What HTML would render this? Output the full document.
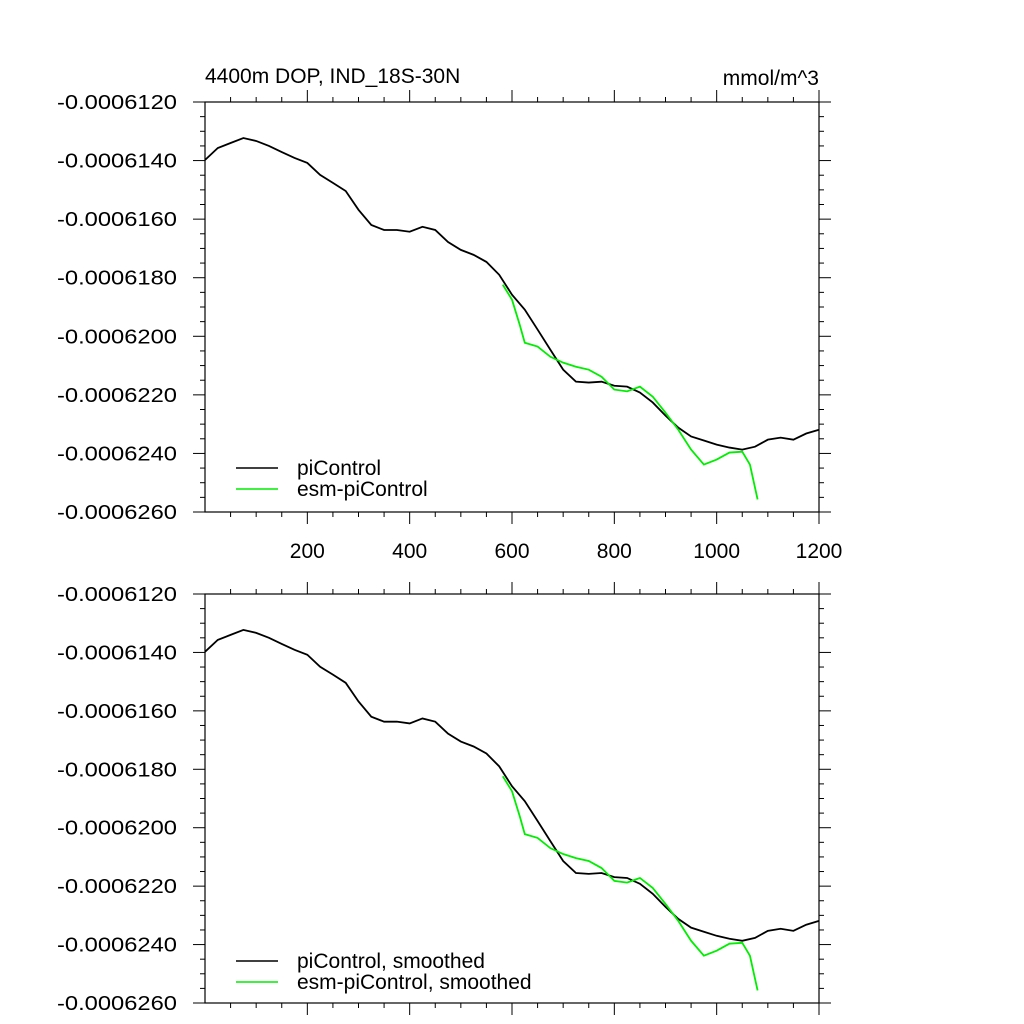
<!DOCTYPE html>
<html><head><meta charset="utf-8"><style>
html,body{margin:0;padding:0;background:#fff}
svg{display:block;font-family:"Liberation Sans",sans-serif}
</style></head><body>
<svg id="chart" width="1024" height="1024"></svg>
<script>
const years = [0,25,50,75,100,125,150,175,200,225,250,275,300,325,350,375,400,425,450,475,500,525,550,575,600,625,650,675,700,725,750,775,800,825,850,875,900,925,950,975,1000,1025,1050,1075,1100,1125,1150,1175,1200];
const piControl = [-6.1398,-6.1357,-6.1340,-6.1323,-6.1333,-6.1350,-6.1371,-6.1391,-6.1408,-6.1449,-6.1476,-6.1504,-6.1568,-6.1620,-6.1637,-6.1637,-6.1643,-6.1626,-6.1637,-6.1678,-6.1705,-6.1722,-6.1746,-6.1790,-6.1858,-6.1909,-6.1977,-6.2046,-6.2114,-6.2155,-6.2158,-6.2155,-6.2169,-6.2172,-6.2192,-6.2226,-6.2271,-6.2312,-6.2342,-6.2356,-6.2370,-6.2380,-6.2387,-6.2377,-6.2353,-6.2346,-6.2353,-6.2332,-6.2319];
const esmYears = [582,600,615,625,650,675,700,725,750,775,800,825,850,875,900,925,950,975,1000,1025,1050,1065,1080];
const esmPiControl = [-6.1824,-6.1875,-6.1960,-6.2022,-6.2035,-6.2070,-6.2090,-6.2104,-6.2114,-6.2138,-6.2182,-6.2188,-6.2172,-6.2206,-6.2261,-6.2319,-6.2387,-6.2438,-6.2421,-6.2397,-6.2394,-6.2438,-6.2557];
const yTicks = [-6.12,-6.14,-6.16,-6.18,-6.20,-6.22,-6.24,-6.26];
const yTickLabels = ["-0.0006120","-0.0006140","-0.0006160","-0.0006180","-0.0006200","-0.0006220","-0.0006240","-0.0006260"];
const xTicks = [200,400,600,800,1000,1200];
const xTickLabels = ["200","400","600","800","1000","1200"];

const NS="http://www.w3.org/2000/svg";
const svg=document.getElementById('chart');
function mk(tag,attrs,parent){const e=document.createElementNS(NS,tag);for(const k in attrs)e.setAttribute(k,attrs[k]);(parent||svg).appendChild(e);return e;}
const L=205,R=819;
const xs=v=>L+(v-0)*(R-L)/1200;

function panel(top,bottom,idx,showX,legendNames,legendY){
  const g=mk('g',{});
  
  
  const ys=v=>top+(-6.12-v)/(0.14)*(bottom-top);
  const f=mk('rect',{x:L,y:top,width:R-L,height:bottom-top,fill:'none',stroke:'#000','stroke-width':1.2},g);
  
  
  for(let k=0;k<=28;k++){
    const major=k%4===0;
    const y=top+k*(bottom-top)/28;const len=major?12:5;
    mk('line',{x1:L,x2:L-len,y1:y,y2:y,stroke:'#000','stroke-width':1},g);
    mk('line',{x1:R,x2:R+len,y1:y,y2:y,stroke:'#000','stroke-width':1},g);
  }
  yTicks.forEach((v,i)=>{
    const t=mk('text',{x:177,y:ys(v)+7,'text-anchor':'end','font-size':20,textLength:120,lengthAdjust:'spacingAndGlyphs'},g);
    t.textContent=yTickLabels[i];
    
    
  });
  for(let x=50;x<=1200;x+=50){
    const major=x%200===0;const len=major?12:5;const px=xs(x);
    mk('line',{x1:px,x2:px,y1:bottom,y2:bottom+len,stroke:'#000','stroke-width':1},g);
    mk('line',{x1:px,x2:px,y1:top,y2:top-len,stroke:'#000','stroke-width':1},g);
  }
  if(showX){xTicks.forEach((v,i)=>{
    const t=mk('text',{x:xs(v),y:bottom+46,'text-anchor':'middle','font-size':21},g);
    t.textContent=xTickLabels[i];
    
    
  });}
  const p1=mk('polyline',{points:years.map((y,i)=>xs(y)+','+ys(piControl[i])).join(' '),fill:'none',stroke:'#000','stroke-width':1.8},g);
  
  
  const p2=mk('polyline',{points:esmYears.map((y,i)=>xs(y)+','+ys(esmPiControl[i])).join(' '),fill:'none',stroke:'#00ee00','stroke-width':1.8},g);
  
  
  ['#000','#00ee00'].forEach((c,i)=>{
    const yy=legendY+i*21;
    const lg=mk('g',{},g);
    
    
    mk('line',{x1:236,x2:278,y1:yy,y2:yy,stroke:c,'stroke-width':1.5},lg);
    const t=mk('text',{x:297,y:yy+7,'font-size':21},lg);
    t.textContent=legendNames[i];
  });
}
panel(102,512,'top',true,['piControl','esm-piControl'],468);
panel(594,1003,'bottom',false,['piControl, smoothed','esm-piControl, smoothed'],961);
const t1=mk('text',{x:205,y:83,'font-size':21});t1.textContent='4400m DOP, IND_18S-30N';


const t2=mk('text',{x:819,y:85,'font-size':21,'text-anchor':'end'});t2.textContent='mmol/m^3';


</script>
</body></html>
